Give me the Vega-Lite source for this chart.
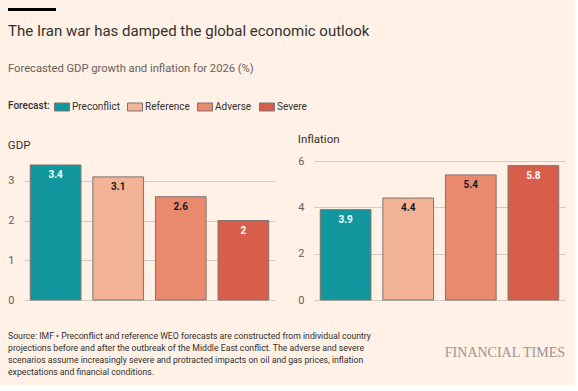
{
  "$schema": "https://vega.github.io/schema/vega-lite/v6.json",
  "background": "#FFF1E5",
  "padding": {"left": 7, "top": 8, "right": 10, "bottom": 8},
  "datasets": {
    "main": [
      {"Indicator": "GDP", "Forecast": "Preconflict", "value": 3.4},
      {"Indicator": "GDP", "Forecast": "Reference", "value": 3.1},
      {"Indicator": "GDP", "Forecast": "Adverse", "value": 2.6},
      {"Indicator": "GDP", "Forecast": "Severe", "value": 2.0},
      {"Indicator": "Inflation", "Forecast": "Preconflict", "value": 3.9},
      {"Indicator": "Inflation", "Forecast": "Reference", "value": 4.4},
      {"Indicator": "Inflation", "Forecast": "Adverse", "value": 5.4},
      {"Indicator": "Inflation", "Forecast": "Severe", "value": 5.8}
    ],
    "rulebar": [{"start": 0, "end": 3, "lo": 0, "hi": 1}],
    "foot": [
      {"text": "Source: IMF • Preconflict and reference WEO forecasts are constructed from individual country", "line": 1, "col": "left"},
      {"text": "projections before and after the outbreak of the Middle East conflict. The adverse and severe", "line": 2, "col": "left"},
      {"text": "scenarios assume increasingly severe and protracted impacts on oil and gas prices, inflation", "line": 3, "col": "left"},
      {"text": "expectations and financial conditions.", "line": 4, "col": "left"}
    ],
    "brand": [
      {"text": "FINANCIAL TIMES", "line": 2.4, "col": "right"}
    ]
  },
  "concat": [
    {
      "concat": [
        {
          "width": 48,
          "height": 3,
          "data": {"name": "rulebar"},
          "title": {
            "text": "The Iran war has damped the global economic outlook",
            "subtitle": "Forecasted GDP growth and inflation for 2026 (%)",
            "orient": "bottom",
            "anchor": "start",
            "frame": "group",
            "dx": -16,
            "font": "Roboto",
            "fontSize": 15,
            "fontWeight": "normal",
            "color": "#33302E",
            "subtitleFont": "Roboto",
            "subtitleFontSize": 11.2,
            "subtitleColor": "#66605C",
            "subtitlePadding": 24,
            "offset": 13
          },
          "mark": {"type": "rect", "color": "#000000"},
          "encoding": {
            "x": {"field": "start", "type": "quantitative", "axis": null, "scale": {"domain": [1, 4], "nice": false, "zero": false}},
            "x2": {"field": "end"},
            "y": {"field": "lo", "type": "quantitative", "axis": null, "scale": {"domain": [0, 1], "nice": false}},
            "y2": {"field": "hi"}
          }
        },
        {
          "hconcat": [
            {
              "title": {"text": "GDP"},
              "width": 251,
              "height": 139,
              "data": {"name": "main"},
              "transform": [{"filter": "datum.Indicator === 'GDP'"}],
              "encoding": {
                "x": {"field": "Forecast", "type": "nominal", "sort": ["Preconflict", "Reference", "Adverse", "Severe"], "axis": null, "scale": {"paddingInner": 0.19, "paddingOuter": 0.1}},
                "y": {"field": "value", "type": "quantitative", "scale": {"domain": [0, 3.5], "nice": false}, "axis": {"values": [0, 1, 2, 3], "title": null}}
              },
              "layer": [
                {
                  "mark": {"type": "bar", "stroke": "#7F7370", "strokeWidth": 1},
                  "encoding": {
                    "color": {"field": "Forecast", "type": "nominal", "sort": ["Preconflict", "Reference", "Adverse", "Severe"], "scale": {"domain": ["Preconflict", "Reference", "Adverse", "Severe"], "range": ["#12979F", "#F2B397", "#E98A6E", "#D75E4A"]}, "legend": {"title": "Forecast:"}}
                  }
                },
                {
                  "mark": {"type": "text", "baseline": "top", "dy": 5, "font": "Roboto", "fontSize": 10, "fontWeight": "bold"},
                  "encoding": {
                    "text": {"field": "value", "type": "quantitative"},
                    "color": {"condition": {"test": "datum.Forecast === 'Preconflict' || datum.Forecast === 'Severe'", "value": "#FFFFFF"}, "value": "#1A1A1A"}
                  }
                }
              ]
            },
            {
              "title": {"text": "Inflation"},
              "width": 251,
              "height": 139,
              "data": {"name": "main"},
              "transform": [{"filter": "datum.Indicator === 'Inflation'"}],
              "encoding": {
                "x": {"field": "Forecast", "type": "nominal", "sort": ["Preconflict", "Reference", "Adverse", "Severe"], "axis": null, "scale": {"paddingInner": 0.19, "paddingOuter": 0.1}},
                "y": {"field": "value", "type": "quantitative", "scale": {"domain": [0, 6], "nice": false}, "axis": {"values": [0, 2, 4, 6], "title": null}}
              },
              "layer": [
                {
                  "mark": {"type": "bar", "stroke": "#7F7370", "strokeWidth": 1},
                  "encoding": {
                    "color": {"field": "Forecast", "type": "nominal", "sort": ["Preconflict", "Reference", "Adverse", "Severe"], "scale": {"domain": ["Preconflict", "Reference", "Adverse", "Severe"], "range": ["#12979F", "#F2B397", "#E98A6E", "#D75E4A"]}, "legend": {"title": "Forecast:"}}
                  }
                },
                {
                  "mark": {"type": "text", "baseline": "top", "dy": 5, "font": "Roboto", "fontSize": 10, "fontWeight": "bold"},
                  "encoding": {
                    "text": {"field": "value", "type": "quantitative"},
                    "color": {"condition": {"test": "datum.Forecast === 'Preconflict' || datum.Forecast === 'Severe'", "value": "#FFFFFF"}, "value": "#1A1A1A"}
                  }
                }
              ]
            }
          ],
          "spacing": 22
        }
      ],
      "columns": 1,
      "align": "none",
      "spacing": 58
    },
    {
      "width": 541,
      "height": 36,
      "encoding": {
        "x": {"field": "col", "type": "nominal", "axis": null, "scale": {"type": "point", "domain": ["left", "right"], "padding": 0}},
        "y": {"field": "line", "type": "quantitative", "axis": null, "scale": {"domain": [1, 4], "reverse": true, "nice": false, "zero": false}}
      },
      "layer": [
        {
          "data": {"name": "foot"},
          "mark": {"type": "text", "align": "left", "baseline": "middle", "dx": -16, "font": "Roboto", "fontSize": 8.7, "color": "#33302E"},
          "encoding": {"text": {"field": "text", "type": "nominal"}}
        },
        {
          "data": {"name": "brand"},
          "mark": {"type": "text", "align": "right", "baseline": "middle", "font": "Liberation Serif", "fontSize": 14, "color": "#9E9590"},
          "encoding": {"text": {"field": "text", "type": "nominal"}}
        }
      ]
    }
  ],
  "columns": 1,
  "align": "none",
  "spacing": 27,
  "config": {
    "view": {"stroke": null},
    "font": "Roboto",
    "title": {"anchor": "start", "frame": "bounds", "font": "Roboto", "fontSize": 11.5, "fontWeight": "normal", "color": "#33302E", "offset": 10},
    "axis": {"labelFont": "Roboto", "labelFontSize": 11, "labelColor": "#66605C", "domain": false, "ticks": false, "labelPadding": 10, "gridColor": "#D3CAC1", "gridWidth": 1},
    "legend": {"orient": "none", "legendX": -16, "legendY": 91, "direction": "horizontal", "titleOrient": "left", "titleFont": "Roboto", "titleFontSize": 10, "titleFontWeight": 500, "titleColor": "#33302E", "labelFont": "Roboto", "labelFontSize": 10, "labelColor": "#33302E", "symbolType": "M-1,-0.533H1V0.533H-1Z", "symbolSize": 225, "symbolStrokeColor": "#7F7370", "symbolStrokeWidth": 1, "symbolOpacity": 1, "columnPadding": 5, "labelOffset": 2, "titlePadding": 4}
  }
}
